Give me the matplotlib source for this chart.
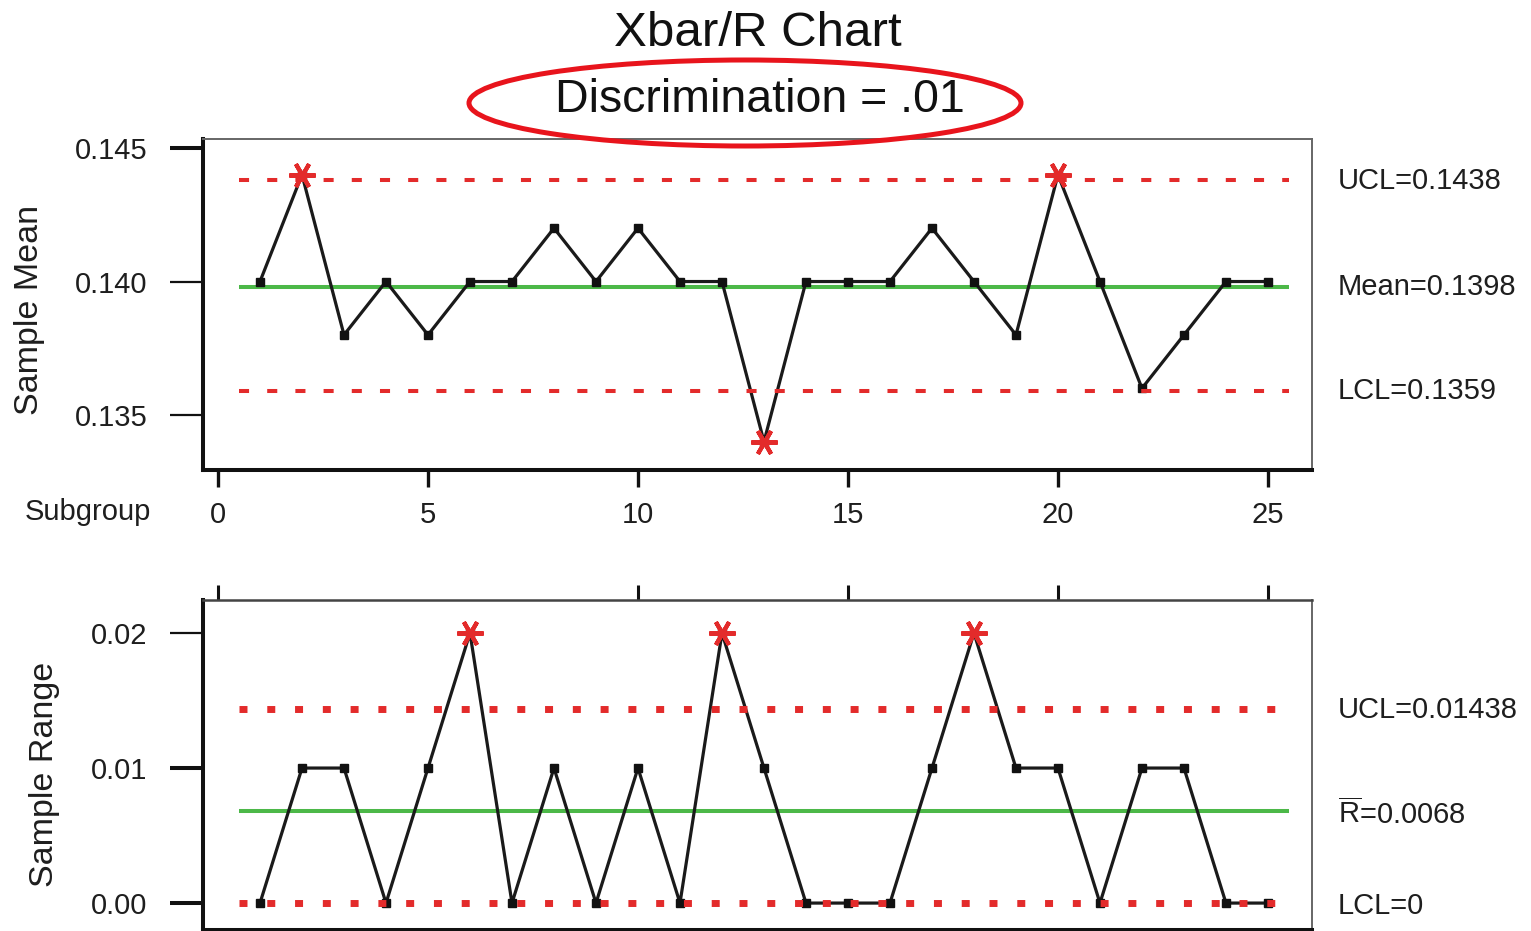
"""Xbar/R control chart, discrimination = .01 (Minitab style)."""

import matplotlib
matplotlib.use("Agg")
import matplotlib.pyplot as plt
from matplotlib.patches import Ellipse
from matplotlib.transforms import blended_transform_factory

plt.rcParams["font.family"] = ["Liberation Sans", "DejaVu Sans"]
plt.rcParams["mathtext.fontset"] = "custom"
plt.rcParams["mathtext.rm"] = "Liberation Sans"

# data
subgroups = list(range(1, 26))
xbar = [0.140, 0.144, 0.138, 0.140, 0.138, 0.140, 0.140, 0.142, 0.140, 0.142,
        0.140, 0.140, 0.134, 0.140, 0.140, 0.140, 0.142, 0.140, 0.138, 0.144,
        0.140, 0.136, 0.138, 0.140, 0.140]
ranges = [0.00, 0.01, 0.01, 0.00, 0.01, 0.02, 0.00, 0.01, 0.00, 0.01,
          0.00, 0.02, 0.01, 0.00, 0.00, 0.00, 0.01, 0.02, 0.01, 0.01,
          0.00, 0.01, 0.01, 0.00, 0.00]
xbar_ucl, xbar_mean, xbar_lcl = 0.1438, 0.1398, 0.1359
r_ucl, r_bar, r_lcl = 0.01438, 0.0068, 0.0
xbar_labels = ["UCL=0.1438", "Mean=0.1398", "LCL=0.1359"]
r_labels = ["UCL=0.01438", r"$\overline{\mathrm{R}}$=0.0068", "LCL=0"]
xbar_ticks = [0.135, 0.140, 0.145]
r_ticks = [0.00, 0.01, 0.02]
x_ticks = [0, 5, 10, 15, 20, 25]
r_top_ticks = [0, 10, 15, 20, 25]

TXT = "#1e1e1e"
RED = "#e32b2b"
GREEN = "#4cb848"
FS = 21

fig = plt.figure(figsize=(15.31, 9.31), dpi=100)
ax1 = fig.add_axes([0.1326, 0.4952, 0.7244, 0.3555])
ax2 = fig.add_axes([0.1326, 0.001, 0.7244, 0.3545])


def style_frame(ax):
    for side in ("top", "right"):
        ax.spines[side].set_color("#666666")
        ax.spines[side].set_linewidth(1.4)
    ax.spines["left"].set_color("#111111")
    ax.spines["left"].set_linewidth(2.9)
    ax.spines["bottom"].set_color("#111111")
    ax.spines["bottom"].set_linewidth(2.9)
    ax.set_xlim(-0.357, 26.05)
    ax.tick_params(axis="y", direction="out", length=24, width=1.6,
                   pad=16, labelsize=FS, labelcolor=TXT, color="#111111")


def thick_yticks(ax, which):
    # the scanned original has a few heavier tick marks
    for i, t in enumerate(ax.yaxis.get_major_ticks()):
        if i in which:
            t.tick1line.set_markeredgewidth(2.9)


def control_lines(ax, ucl, center, lcl, dash, lw):
    ax.hlines(center, 0.5, 25.5, color=GREEN, lw=2.9, zorder=2)
    for v in (ucl, lcl):
        ax.hlines(v, 0.5, 25.5, color=RED, lw=lw, linestyles=[(0, dash)],
                  zorder=4, capstyle="butt")


def plot_series(ax, vals, ucl, lcl):
    ax.plot(subgroups, vals, color="#1a1a1a", lw=2.3, marker="s", ms=6,
            mfc="#111111", mec="#111111", zorder=3)
    out_x = [s for s, v in zip(subgroups, vals) if v > ucl or v < lcl]
    out_y = [v for v in vals if v > ucl or v < lcl]
    ax.plot(out_x, out_y, ls="none", marker=(6, 2, 90), ms=19, mew=3.0,
            color=RED, zorder=5)


def side_labels(ax, values, labels, offsets):
    tr = blended_transform_factory(ax.transAxes, ax.transData)
    for v, lab, off in zip(values, labels, offsets):
        ax.text(1.0234, v + off, lab, transform=tr, ha="left", va="center",
                fontsize=FS, color=TXT)


# Xbar chart
style_frame(ax1)
ax1.set_ylim(0.13294, 0.14534)
ax1.set_yticks(xbar_ticks)
ax1.set_yticklabels([f"{t:.3f}" for t in xbar_ticks])
thick_yticks(ax1, [2])
ax1.set_xticks(x_ticks)
ax1.tick_params(axis="x", direction="out", length=12, width=2.4, pad=10,
                labelsize=FS, labelcolor=TXT, color="#111111")
control_lines(ax1, xbar_ucl, xbar_mean, xbar_lcl, (2.5, 4.5), 2.9)
plot_series(ax1, xbar, xbar_ucl, xbar_lcl)
side_labels(ax1, [xbar_ucl, xbar_mean, xbar_lcl], xbar_labels,
            [-0.00004, -0.00002, -0.00001])

# R chart
style_frame(ax2)
ax2.spines["top"].set_color("#444444")
ax2.spines["top"].set_linewidth(1.8)
ax2.set_ylim(-0.002, 0.022444)
ax2.set_yticks(r_ticks)
ax2.set_yticklabels([f"{t:.2f}" for t in r_ticks])
thick_yticks(ax2, [0, 1])
ax2.xaxis.set_ticks_position("top")
ax2.set_xticks(r_top_ticks)
ax2.tick_params(axis="x", direction="out", length=11, width=2.2,
                labeltop=False, labelbottom=False, color="#111111")
control_lines(ax2, r_ucl, r_bar, r_lcl, (1.15, 2.85), 5.0)
plot_series(ax2, ranges, r_ucl, r_lcl)
side_labels(ax2, [r_ucl, r_bar, r_lcl], r_labels, [-0.0001, -0.0002, -0.0002])

# axis labels and titles
fig.text(30 / 1531, 1 - 310 / 931, "Sample Mean", rotation=90, ha="center",
         va="center", fontsize=24.5, color=TXT)
fig.text(45 / 1531, 1 - 774 / 931, "Sample Range", rotation=90, ha="center",
         va="center", fontsize=24.5, color=TXT)
fig.text(25 / 1531, 1 - 512 / 931, "Subgroup", ha="left", va="center",
         fontsize=FS, color=TXT)
fig.text(758 / 1531, 1 - 33 / 931, "Xbar/R Chart", ha="center", va="center",
         fontsize=35.5, color="#111111")
fig.text(760 / 1531, 1 - 100 / 931, "Discrimination = .01", ha="center",
         va="center", fontsize=33.5, color="#111111")

ring = Ellipse((745 / 1531, 1 - 103 / 931), 552 / 1531, 86 / 931,
               transform=fig.transFigure, fill=False, edgecolor="#e8141c",
               lw=3.6, zorder=10)
fig.patches.append(ring)

fig.savefig("out.png", dpi=100)
plt.close(fig)
